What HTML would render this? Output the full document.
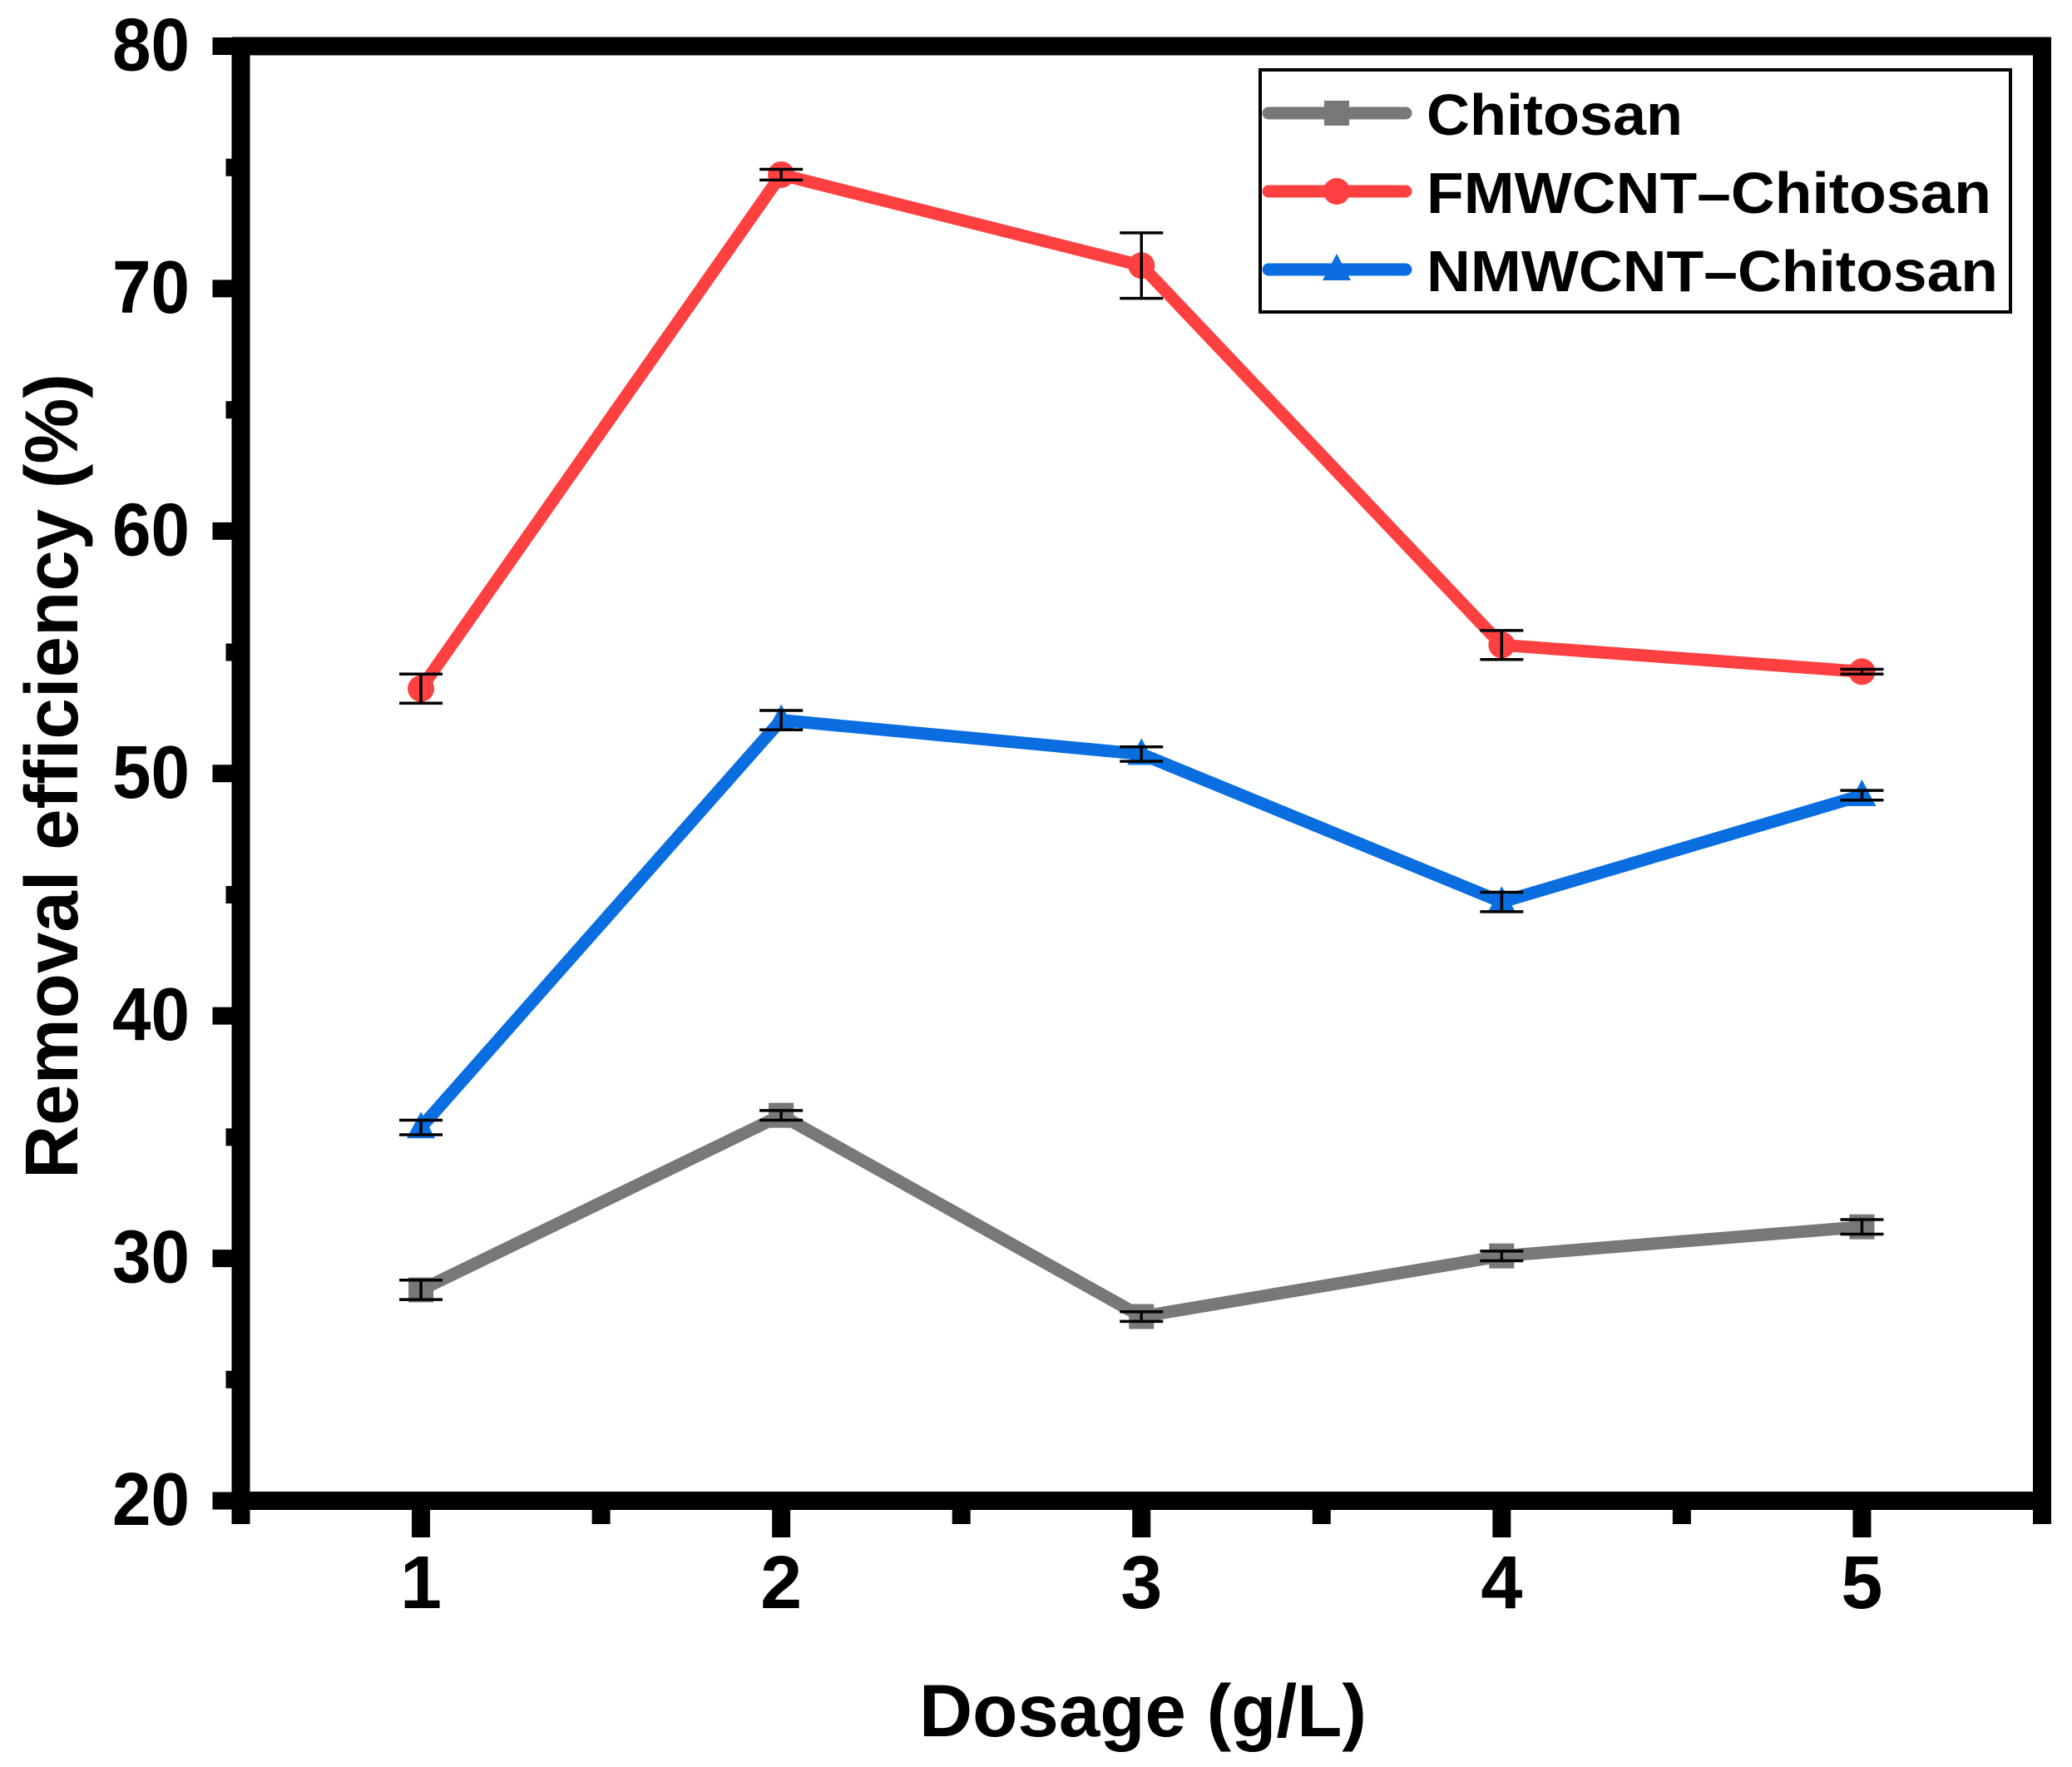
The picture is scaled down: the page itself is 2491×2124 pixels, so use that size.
<!DOCTYPE html>
<html><head><meta charset="utf-8"><style>
html,body{margin:0;padding:0;background:#fff}
svg{display:block}
text{font-family:"Liberation Sans",Arial,sans-serif;font-weight:bold;fill:#000}
</style></head><body>
<svg id="chart" width="2491" height="2124" viewBox="0 0 2491 2124" xmlns="http://www.w3.org/2000/svg">
<g id="plot"></g>
<g id="axes"></g>
<g id="legend"></g>
</svg>
<script>
const categories = [1, 2, 3, 4, 5];
const chitosanValues = [28.7, 35.9, 27.6, 30.1, 31.3];
const chitosanErrors = [0.4, 0.2, 0.2, 0.2, 0.3];
const fmwcntValues = [53.5, 74.7, 70.95, 55.3, 54.2];
const fmwcntErrors = [0.6, 0.22, 1.35, 0.6, 0.1];
const nmwcntValues = [35.4, 52.2, 50.8, 44.7, 49.1];
const nmwcntErrors = [0.3, 0.4, 0.3, 0.4, 0.2];
const yTicks = [20, 30, 40, 50, 60, 70, 80];
const xTickLabels = ["1", "2", "3", "4", "5"];

const NS = "http://www.w3.org/2000/svg";
const X0 = 289.5, X1 = 2455, Y0 = 1804, Y1 = 55.5;
function xs(v){ return X0 + (v - 0.5) / 5 * (X1 - X0); }
function ys(v){ return Y0 - (v - 20) / 60 * (Y0 - Y1); }
function mk(tag, attrs, parent){
  const e = document.createElementNS(NS, tag);
  for (const k in attrs) e.setAttribute(k, attrs[k]);
  parent.appendChild(e);
  return e;
}
const plot = document.getElementById('plot');
const axes = document.getElementById('axes');
const legend = document.getElementById('legend');

const series = [
  {name:'chitosan', vals:chitosanValues, errs:chitosanErrors, color:'#787878', marker:'square', label:'Chitosan'},
  {name:'fmwcnt-chitosan', vals:fmwcntValues, errs:fmwcntErrors, color:'#ff4040', marker:'circle', label:'FMWCNT\u2013Chitosan'},
  {name:'nmwcnt-chitosan', vals:nmwcntValues, errs:nmwcntErrors, color:'#0a6ee0', marker:'triangle', label:'NMWCNT\u2013Chitosan'}
];

function drawMarker(type, cx, cy, color, parent){
  let m;
  if (type === 'square') m = mk('rect', {x:cx-15, y:cy-15, width:30, height:30, fill:color}, parent);
  else if (type === 'circle') m = mk('circle', {cx:cx, cy:cy, r:16, fill:color}, parent);
  else m = mk('polygon', {points:`${cx},${cy-19} ${cx+17},${cy+13} ${cx-17},${cy+13}`, fill:color}, parent);
  return m;
}

series.forEach(s => {
  const g = mk('g', {}, plot);
  
  
  const pts = categories.map((c,i) => xs(c) + ',' + ys(s.vals[i])).join(' ');
  const line = mk('polyline', {points:pts, fill:'none', stroke:s.color, 'stroke-width':15, 'stroke-linejoin':'round', 'stroke-linecap':'round'}, g);
  
  
  categories.forEach((c,i) => {
    const cx = xs(c), cy = ys(s.vals[i]);
    const m = drawMarker(s.marker, cx, cy, s.color, g);
    
    
    const hi = ys(s.vals[i] + s.errs[i]), lo = ys(s.vals[i] - s.errs[i]);
    const eb = mk('path', {d:`M${cx},${hi}V${lo}M${cx-26},${hi}H${cx+26}M${cx-26},${lo}H${cx+26}`, stroke:'#000', 'stroke-width':3.5, fill:'none'}, g);
    
    
  });
});

// frame
const frame = mk('rect', {x:X0, y:Y1, width:X1-X0, height:Y0-Y1, fill:'none', stroke:'#000', 'stroke-width':22}, axes);



// y ticks
yTicks.forEach(v => {
  const y = ys(v);
  const t = mk('line', {x1:X0-34, x2:X0, y1:y, y2:y, stroke:'#000', 'stroke-width':21}, axes);
  
  
  const lb = mk('text', {x:228, y:y+29, 'text-anchor':'end', 'font-size':90, textLength:93, lengthAdjust:'spacingAndGlyphs'}, axes);
  lb.textContent = v;
  
  
});
for (let v = 25; v < 80; v += 10) {
  const y = ys(v);
  const t = mk('line', {x1:X0-18, x2:X0, y1:y, y2:y, stroke:'#000', 'stroke-width':21}, axes);
  
  
}
// x ticks
categories.forEach((c,i) => {
  const x = xs(c);
  const t = mk('line', {x1:x, x2:x, y1:Y0, y2:Y0+44, stroke:'#000', 'stroke-width':22}, axes);
  
  
  const lb = mk('text', {x:x, y:1933, 'text-anchor':'middle', 'font-size':90}, axes);
  lb.textContent = xTickLabels[i];
  
  
});
for (let v = 0.5; v <= 5.5; v += 1) {
  const x = xs(v);
  const t = mk('line', {x1:x, x2:x, y1:Y0, y2:Y0+28, stroke:'#000', 'stroke-width':22}, axes);
  
  
}
// axis titles
const xt = mk('text', {x:1374, y:2087, 'text-anchor':'middle', 'font-size':89, textLength:538, lengthAdjust:'spacingAndGlyphs'}, axes);
xt.textContent = 'Dosage (g/L)';


const yt = mk('text', {x:0, y:0, 'text-anchor':'middle', 'font-size':90, textLength:968, lengthAdjust:'spacingAndGlyphs', transform:'translate(93,933) rotate(-90)'}, axes);
yt.textContent = 'Removal efficiency (%)';



// legend
const lbox = mk('rect', {x:1515, y:84, width:902, height:291, fill:'#fff', stroke:'#000', 'stroke-width':4}, legend);


const rowY = [136, 230, 324];
const textW = [308, 679, 687];
series.forEach((s,i) => {
  const g = mk('g', {}, legend);
  
  
  const y = rowY[i];
  mk('line', {x1:1525, x2:1690, y1:y, y2:y, stroke:s.color, 'stroke-width':15, 'stroke-linecap':'round'}, g);
  drawMarker(s.marker, 1607, y, s.color, g);
  const t = mk('text', {x:1715, y:y+26, 'font-size':70, textLength:textW[i], lengthAdjust:'spacingAndGlyphs'}, g);
  t.textContent = s.label;
});
</script>
</body></html>
